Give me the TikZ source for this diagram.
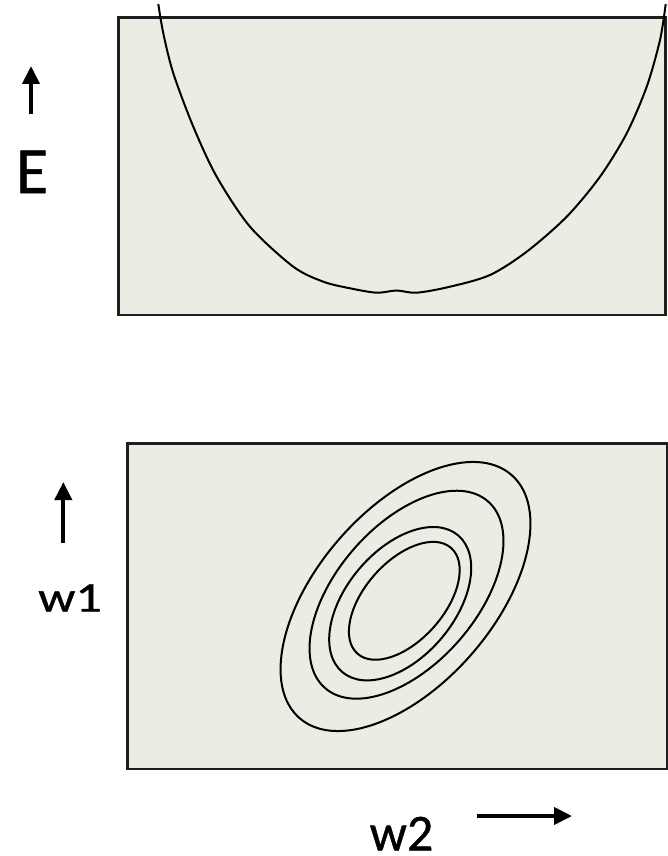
\documentclass[tikz,border=0pt]{standalone}
\usepackage{fontspec}
\setmainfont{Carlito}
\newfontfamily\lblfont[FakeBold=0.8]{Carlito}
\usetikzlibrary{arrows.meta}
\definecolor{panelfill}{HTML}{ECECE4}
\definecolor{edgecol}{HTML}{1E1E1E}
\tikzset{
  panel/.style={draw=edgecol, line width=2.6pt, fill=panelfill},
  curveline/.style={draw=black, line width=2pt},
  axisarrow/.style={draw=black, line width=4pt, -{Triangle[length=18pt,width=17pt]}},
  lbl/.style={inner sep=0pt, anchor=base}
}
\begin{document}
\begin{tikzpicture}[x=1pt,y=-1pt]
\useasboundingbox (0,0) rectangle (668,856);
% top panel
\path[panel] (118.5,17.5) rectangle (665.7,315);
\draw[curveline] plot[smooth, tension=0.5] coordinates {
 (158.3,4) (163.3,33.3) (173.3,73.3) (193.3,126.7) (216.7,176.7) (250,226.7)
 (293.3,266.7) (323.3,281.7) (350,288.3) (376.7,292.7) (396.5,290.5)
 (416.7,292.7) (450,286.7) (490,275) (526.7,251.7) (566.7,216.7)
 (600,176.7) (626.7,133.3) (646.7,86.7) (660,40) (665.7,4)};
\coordinate (Etail) at (31,114);
\coordinate (Ehead) at (31,66);
\draw[axisarrow] (Etail) -- (Ehead);
\node[lbl, font=\lblfont\fontsize{66}{70}\selectfont] (E) at (32,193) {E};
% bottom panel
\path[panel] (127.7,443.3) rectangle (667,769);
\draw[curveline, rotate around={48.9:(405.5,596.5)}] (405.5,596.5) ellipse [x radius=161.3pt, y radius=87.7pt];
\draw[curveline, rotate around={48.85:(406.5,594.7)}] (406.5,594.7) ellipse [x radius=123.9pt, y radius=69.7pt];
\draw[curveline, rotate around={49.7:(400.2,603.7)}] (400.2,603.7) ellipse [x radius=89.6pt, y radius=53.8pt];
\draw[curveline, rotate around={48.4:(404.3,600.8)}] (404.3,600.8) ellipse [x radius=70.6pt, y radius=39.5pt];
\coordinate (w1tail) at (63.3,543);
\coordinate (w1head) at (63.3,482);
\draw[axisarrow] (w1tail) -- (w1head);
\node[lbl, font=\lblfont\fontsize{52}{60}\selectfont, yscale=0.82] (w1) at (70,611.7) {w1};
\coordinate (w2tail) at (476.7,816);
\coordinate (w2head) at (572,816);
\draw[axisarrow] (w2tail) -- (w2head);
\node[lbl, font=\lblfont\fontsize{52}{60}\selectfont] (w2) at (401.5,850.5) {w2};
\end{tikzpicture}
\end{document}
